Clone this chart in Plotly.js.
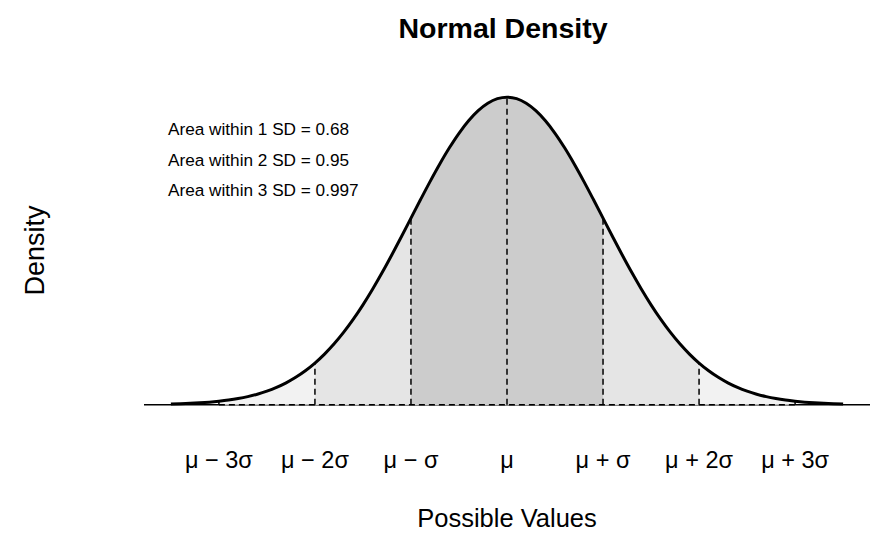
<!DOCTYPE html>
<html>
<head>
<meta charset="utf-8">
<script src="https://cdn.plot.ly/plotly-3.0.1.min.js"></script>
<style>html,body{margin:0;padding:0;background:#fff;}#chart{width:875px;height:536px;}</style>
</head>
<body>
<div id="chart"></div>
<script>
// Values in standard-deviation units and the density read for each
const xValues = [-3.5,-3.4,-3.3,-3.2,-3.1,-3.0,-2.9,-2.8,-2.7,-2.6,-2.5,-2.4,-2.3,-2.2,-2.1,-2.0,-1.9,-1.8,-1.7,-1.6,-1.5,-1.4,-1.3,-1.2,-1.1,-1.0,-0.9,-0.8,-0.7,-0.6,-0.5,-0.4,-0.3,-0.2,-0.1,0.0,0.1,0.2,0.3,0.4,0.5,0.6,0.7,0.8,0.9,1.0,1.1,1.2,1.3,1.4,1.5,1.6,1.7,1.8,1.9,2.0,2.1,2.2,2.3,2.4,2.5,2.6,2.7,2.8,2.9,3.0,3.1,3.2,3.3,3.4,3.5];
const densityValues = [0.000873,0.001232,0.001723,0.002384,0.003267,0.004432,0.005953,0.007915,0.010421,0.013583,0.017528,0.022395,0.028327,0.035475,0.043984,0.053991,0.065616,0.078950,0.094049,0.110921,0.129518,0.149727,0.171369,0.194186,0.217852,0.241971,0.266085,0.289692,0.312254,0.333225,0.352065,0.368270,0.381388,0.391043,0.396953,0.398942,0.396953,0.391043,0.381388,0.368270,0.352065,0.333225,0.312254,0.289692,0.266085,0.241971,0.217852,0.194186,0.171369,0.149727,0.129518,0.110921,0.094049,0.078950,0.065616,0.053991,0.043984,0.035475,0.028327,0.022395,0.017528,0.013583,0.010421,0.007915,0.005953,0.004432,0.003267,0.002384,0.001723,0.001232,0.000873];
const sdPositions = [-3,-2,-1,0,1,2,3];
const tickLabels = ['\u03bc \u2212 3\u03c3','\u03bc \u2212 2\u03c3','\u03bc \u2212 \u03c3','\u03bc','\u03bc + \u03c3','\u03bc + 2\u03c3','\u03bc + 3\u03c3'];
const bandWidths = [3, 2, 1];
const bandColors = ['#f2f2f2', '#e5e5e5', '#cccccc'];
const areaLabels = ['Area within 1 SD = 0.68','Area within 2 SD = 0.95','Area within 3 SD = 0.997'];
const areaLabelY = [0.357, 0.318, 0.278];

function densityAt(v){
  const i = xValues.findIndex(x => Math.abs(x - v) < 1e-9);
  return densityValues[i];
}

const traces = [];
bandWidths.forEach((k, j) => {
  const px = [], py = [];
  xValues.forEach((x, i) => { if (Math.abs(x) <= k + 1e-9) { px.push(x); py.push(densityValues[i]); } });
  px.push(k, -k); py.push(0, 0);
  traces.push({x: px, y: py, type: 'scatter', mode: 'lines', fill: 'toself', fillcolor: bandColors[j],
    line: {width: 0, color: 'rgba(0,0,0,0)'}, hoverinfo: 'skip', showlegend: false});
});
// dashed baseline between -3 and 3
traces.push({x: [sdPositions[0], sdPositions[sdPositions.length-1]], y: [0, 0], type: 'scatter', mode: 'lines',
  line: {color: '#000', width: 1.5, dash: '6px,4px'}, showlegend: false, hoverinfo: 'skip'});
// dashed verticals
sdPositions.forEach(s => {
  traces.push({x: [s, s], y: [0, densityAt(s)], type: 'scatter', mode: 'lines',
    line: {color: '#000', width: 1.5, dash: '6px,4px'}, showlegend: false, hoverinfo: 'skip'});
});
// curve
traces.push({x: xValues, y: densityValues, type: 'scatter', mode: 'lines',
  line: {color: '#000', width: 3, shape: 'spline'}, showlegend: false, hoverinfo: 'skip'});

const annotations = areaLabels.map((t, i) => ({
  text: t, x: -3.55, y: areaLabelY[i], xref: 'x', yref: 'y', xanchor: 'left', yanchor: 'middle',
  showarrow: false, font: {family: 'Liberation Sans, Arial, sans-serif', size: 17.2, color: '#000'}
}));

const layout = {
  width: 875, height: 536,
  margin: {l: 144, r: 5, t: 84, b: 119},
  paper_bgcolor: '#fff', plot_bgcolor: '#fff',
  font: {family: 'Liberation Sans, Arial, sans-serif', color: '#000'},
  title: {text: '<b>Normal Density</b>', x: 0.4945, xanchor: 'center', xref: 'paper', y: 1 - 28/536, yref: 'container', yanchor: 'middle',
    font: {size: 28.5, family: 'Liberation Sans, Arial, sans-serif', color: '#000'}},
  xaxis: {range: [-3.78, 3.78], showgrid: false, zeroline: false, showline: false, ticks: '',
    tickmode: 'array', tickvals: sdPositions, ticktext: tickLabels, ticklabelstandoff: 26,
    tickfont: {size: 23.5, family: 'Liberation Sans, Arial, sans-serif', color: '#000'},
    title: {text: 'Possible Values', standoff: 37, font: {size: 25.5, color: '#000'}}, fixedrange: true},
  yaxis: {range: [-0.016, 0.416], showgrid: false, zeroline: false, showline: false, showticklabels: false, ticks: '',
    title: {text: 'Density', standoff: 90, font: {size: 27, color: '#000'}}, fixedrange: true},
  shapes: [{type: 'line', xref: 'paper', x0: 0, x1: 1, yref: 'y', y0: 0, y1: 0, layer: 'below',
    line: {color: '#000', width: 1.5}}],
  annotations: annotations
};

Plotly.newPlot('chart', traces, layout, {displayModeBar: false, staticPlot: true});
</script>
</body>
</html>
